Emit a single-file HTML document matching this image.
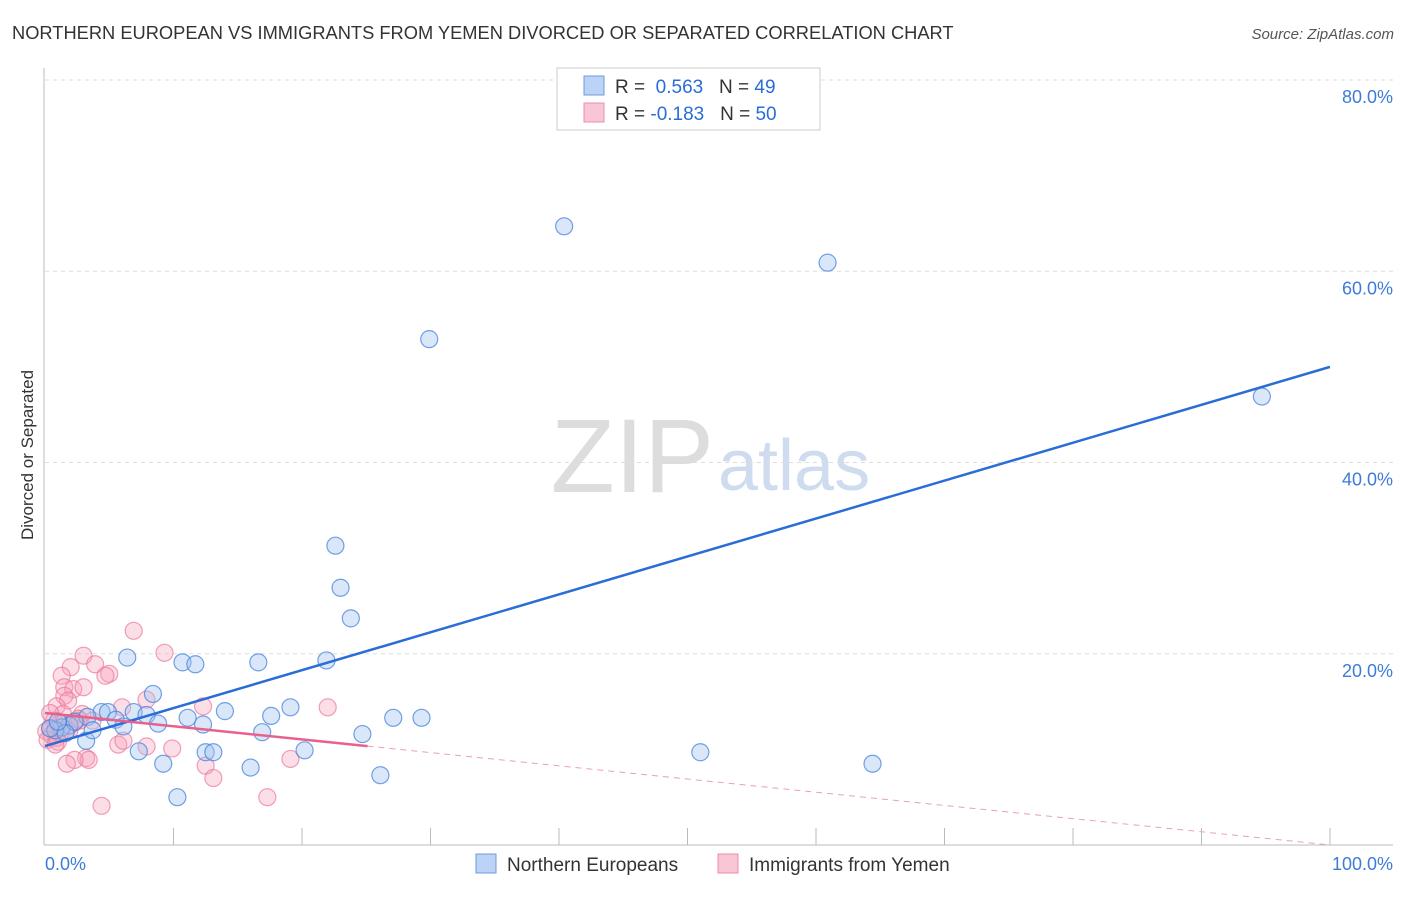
<!DOCTYPE html>
<html><head><meta charset="utf-8"><style>
body{margin:0;background:#fff;font-family:"Liberation Sans",sans-serif;}
svg text{font-family:"Liberation Sans",sans-serif;}
</style></head><body>
<svg id="c" width="1406" height="892" xmlns="http://www.w3.org/2000/svg">
<text x="12" y="39" font-size="18.3" fill="#333">NORTHERN EUROPEAN VS IMMIGRANTS FROM YEMEN DIVORCED OR SEPARATED CORRELATION CHART</text>
<text x="1394" y="39" font-size="15" fill="#555" font-style="italic" text-anchor="end">Source: ZipAtlas.com</text>
<text x="33" y="455" font-size="17" fill="#333" transform="rotate(-90 33 455)" text-anchor="middle">Divorced or Separated</text>
<text x="714" y="492" font-size="105" fill="#ddd" text-anchor="end" font-family="Liberation Serif">ZIP</text>
<text x="718" y="490" font-size="72" fill="#cfdcf0">atlas</text>
<g id="grid"></g><g id="pts"></g><g id="lines"></g>
<g>
<rect x="557" y="68" width="263" height="62" fill="#fff" stroke="#ccc"/>
<rect x="584" y="76" width="20" height="19" fill="#bcd3f5" stroke="#6c9be0"/>
<text x="615" y="93" font-size="19" fill="#333">R = <tspan fill="#2a6dd6">&#160;0.563</tspan>&#160;&#160;&#160;N = <tspan fill="#2a6dd6">49</tspan></text>
<rect x="584" y="103" width="20" height="19" fill="#f8c6d4" stroke="#eb8fae"/>
<text x="615" y="120" font-size="19" fill="#333">R = <tspan fill="#2a6dd6">-0.183</tspan>&#160;&#160;&#160;N = <tspan fill="#2a6dd6">50</tspan></text>
</g>
<g>
<rect x="476" y="854" width="20" height="19" fill="#bcd3f5" stroke="#6c9be0"/>
<text x="507" y="871" font-size="19" fill="#333">Northern Europeans</text>
<rect x="718" y="854" width="20" height="19" fill="#f8c6d4" stroke="#eb8fae"/>
<text x="749" y="871" font-size="19" fill="#333">Immigrants from Yemen</text>
</g>
</svg>
<script>
const yTicks=[20,40,60,80];
const xTickLabels=["0.0%","100.0%"];
const blueX=[40.4,60.9,29.9,94.7,22.6,23.0,23.8,6.4,10.7,11.7,16.6,21.9,8.4,4.4,4.9,6.9,7.9,14.0,19.1,11.1,17.6,27.1,29.3,3.3,5.5,6.1,8.8,12.3,16.9,24.7,1.9,3.2,7.3,12.5,13.1,20.2,9.2,16.0,26.1,10.3,51.0,64.4,1.3,0.8,2.3,0.4,1.6,3.7,1.0];
const blueY=[64.7,60.9,52.9,46.9,31.3,26.9,23.7,19.6,19.1,18.9,19.1,19.3,15.8,13.9,13.9,13.9,13.6,14.0,14.4,13.3,13.5,13.3,13.3,13.4,13.1,12.4,12.7,12.6,11.8,11.6,12.5,10.9,9.8,9.7,9.7,9.9,8.5,8.1,7.3,5.0,9.7,8.5,12.3,12.0,12.9,12.2,11.7,12.0,12.9];
const pinkX=[6.9,9.3,3.0,3.9,2.0,5.0,4.7,1.3,1.5,2.2,3.0,1.5,1.8,0.9,2.9,7.9,6.0,12.3,22.0,0.7,1.2,0.4,0.1,0.5,0.9,1.2,1.6,1.9,2.3,2.7,0.2,1.0,5.7,6.1,7.9,9.9,0.8,3.2,3.4,2.3,1.7,12.5,13.1,19.1,17.3,4.4,2.6,1.4,0.4,3.7];
const pinkY=[22.4,20.1,19.8,18.9,18.6,17.9,17.7,17.7,16.5,16.3,16.5,15.6,15.1,14.5,13.7,15.2,14.4,14.5,14.4,13.0,12.8,12.2,11.9,11.5,11.2,11.7,11.9,12.0,12.8,13.0,11.0,10.8,10.5,10.9,10.3,10.1,10.5,9.1,8.9,8.9,8.5,8.3,7.0,9.0,5.0,4.1,13.2,13.7,13.8,13.0];
const blueLine=[10.35,50.0];
const pinkLine=[13.8,0.0];
const pinkSolidEnd=25.1;
const X=v=>45+v*12.85, Y=v=>845-v*9.5625;
const NS="http://www.w3.org/2000/svg";
function mk(t,a,p){const e=document.createElementNS(NS,t);for(const k in a)e.setAttribute(k,a[k]);p.appendChild(e);return e;}
const g=document.getElementById('grid');
for(const t of yTicks){
 const l=mk('line',{x1:45,x2:1393,y1:Y(t),y2:Y(t),stroke:'#ddd','stroke-dasharray':'4,4'},g);
 
 
 const tx=mk('text',{x:1393,y:Y(t)+23,'font-size':18,fill:'#3d7bd8','text-anchor':'end'},g);
 tx.textContent=t.toFixed(1)+'%';
 
 
}
const ax=mk('line',{x1:44,x2:44,y1:68,y2:845,stroke:'#bbb'},g);


const bx=mk('line',{x1:44,x2:1393,y1:845,y2:845,stroke:'#bbb'},g);


for(let i=1;i<=10;i++){
 const tk=mk('line',{x1:X(i*10),x2:X(i*10),y1:828,y2:845,stroke:'#bbb'},g);
 
 
}
const l0=mk('text',{x:45,y:870,'font-size':18,fill:'#3d7bd8'},g);l0.textContent=xTickLabels[0];


const l1=mk('text',{x:1393,y:870,'font-size':18,fill:'#3d7bd8','text-anchor':'end'},g);l1.textContent=xTickLabels[1];


const p=document.getElementById('pts');
pinkX.forEach((x,i)=>{const c=mk('circle',{cx:X(x),cy:Y(pinkY[i]),r:8.5,fill:'rgba(245,160,185,0.35)',stroke:'rgba(235,120,155,0.7)','stroke-width':1.2},p);
 
 });
blueX.forEach((x,i)=>{const c=mk('circle',{cx:X(x),cy:Y(blueY[i]),r:8.5,fill:'rgba(160,195,240,0.4)',stroke:'rgba(70,130,220,0.75)','stroke-width':1.2},p);
 
 });
const L=document.getElementById('lines');
const bl=mk('line',{x1:X(0),y1:Y(blueLine[0]),x2:X(100),y2:Y(blueLine[1]),stroke:'#2a6dd6','stroke-width':2.5},L);


const pf=v=>pinkLine[0]+(pinkLine[1]-pinkLine[0])*v/100;
const pl=mk('line',{x1:X(0),y1:Y(pf(0)),x2:X(pinkSolidEnd),y2:Y(pf(pinkSolidEnd)),stroke:'#e8618c','stroke-width':2.5},L);


const pd=mk('line',{x1:X(pinkSolidEnd),y1:Y(pf(pinkSolidEnd)),x2:X(100),y2:Y(pf(100)),stroke:'#e8a0b8','stroke-width':1,'stroke-dasharray':'6,5'},L);


</script>
</body></html>
